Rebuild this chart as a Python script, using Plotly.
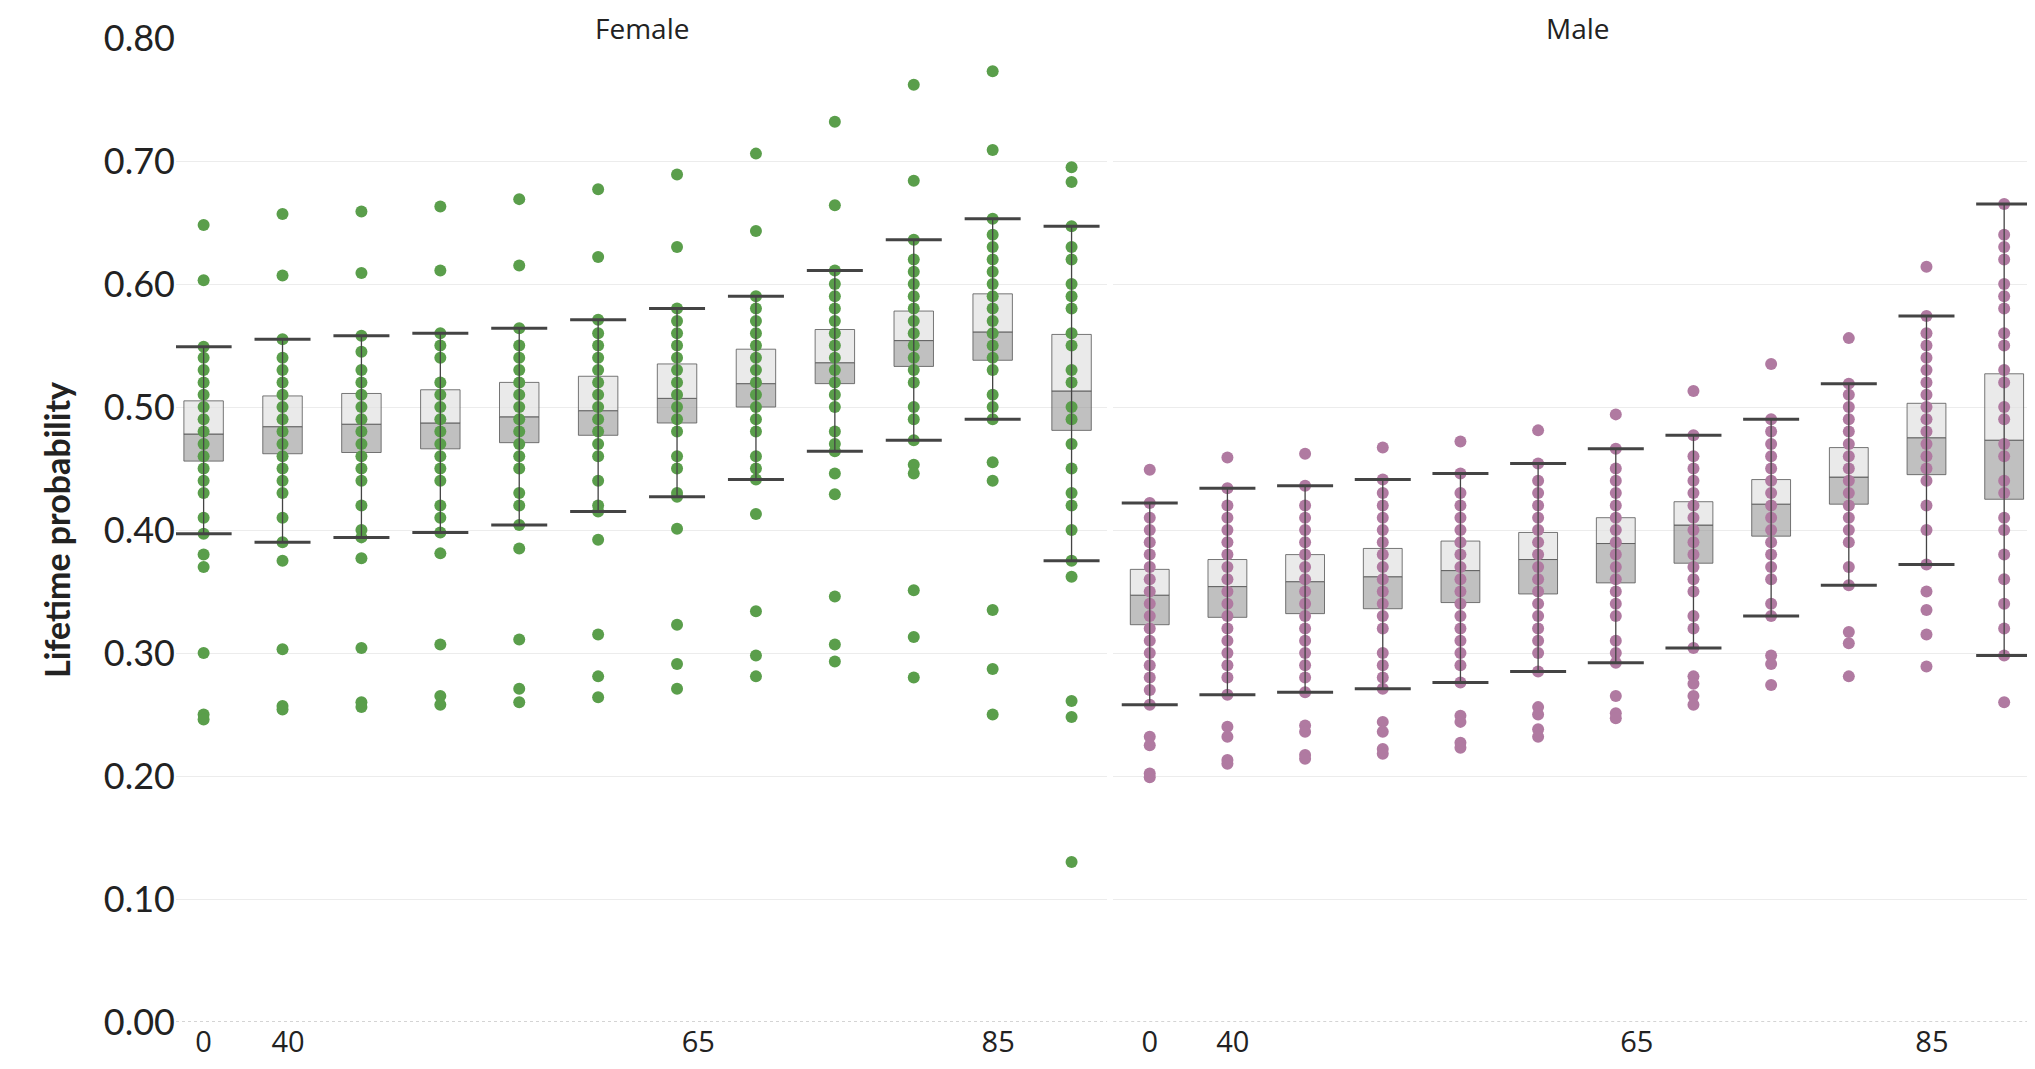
import plotly.graph_objects as go
from plotly.subplots import make_subplots

groups = list(range(12))
tick_pos = [0, 1.07, 6.27, 10.07]
tick_text = ["0", "40", "65", "85"]

# Female summary
f_lo = [.397, .390, .394, .398, .404, .415, .427, .441, .464, .473, .490, .375]
f_q1 = [.456, .462, .463, .466, .471, .477, .487, .500, .519, .533, .538, .481]
f_med = [.478, .484, .486, .487, .492, .497, .507, .519, .536, .554, .561, .513]
f_q3 = [.505, .509, .511, .514, .520, .525, .535, .547, .563, .578, .592, .559]
f_hi = [.549, .555, .558, .560, .564, .571, .580, .590, .611, .636, .653, .647]
f_pts = [
    [.648, .603, .549, .54, .53, .52, .51, .50, .49, .48, .47, .46, .45, .44, .43, .41, .397, .38, .37, .30, .25, .246],
    [.657, .607, .555, .54, .53, .52, .51, .50, .49, .48, .47, .46, .45, .44, .43, .41, .39, .375, .303, .257, .254],
    [.659, .609, .558, .545, .53, .52, .51, .50, .49, .48, .47, .46, .45, .44, .42, .40, .394, .377, .304, .260, .256],
    [.663, .611, .560, .55, .54, .52, .51, .50, .49, .48, .47, .46, .45, .44, .42, .41, .398, .381, .307, .265, .258],
    [.669, .615, .564, .55, .54, .53, .52, .51, .50, .49, .48, .47, .46, .45, .43, .42, .404, .385, .311, .271, .260],
    [.677, .622, .571, .56, .55, .54, .53, .52, .51, .50, .49, .48, .47, .46, .44, .42, .415, .392, .315, .281, .264],
    [.689, .630, .580, .57, .56, .55, .54, .53, .52, .51, .50, .49, .48, .46, .45, .43, .427, .401, .323, .291, .271],
    [.706, .643, .590, .58, .57, .56, .55, .54, .53, .52, .51, .50, .49, .48, .46, .45, .441, .413, .334, .298, .281],
    [.732, .664, .611, .60, .59, .58, .57, .56, .55, .54, .53, .52, .51, .50, .48, .47, .464, .446, .429, .346, .307, .293],
    [.762, .684, .636, .62, .61, .60, .59, .58, .57, .56, .55, .54, .53, .52, .50, .49, .473, .453, .446, .351, .313, .280],
    [.773, .709, .653, .64, .63, .62, .61, .60, .59, .58, .57, .56, .55, .54, .53, .51, .50, .490, .455, .440, .335, .287, .250],
    [.695, .683, .647, .63, .62, .60, .59, .58, .56, .55, .53, .52, .50, .49, .47, .45, .43, .42, .40, .375, .362, .261, .248, .130],
]

# Male summary
m_lo = [.258, .266, .268, .271, .276, .285, .292, .304, .330, .355, .372, .298]
m_q1 = [.323, .329, .332, .336, .341, .348, .357, .373, .395, .421, .445, .425]
m_med = [.347, .354, .358, .362, .367, .376, .389, .404, .421, .443, .475, .473]
m_q3 = [.368, .376, .380, .385, .391, .398, .410, .423, .441, .467, .503, .527]
m_hi = [.422, .434, .436, .441, .446, .454, .466, .477, .490, .519, .574, .665]
m_pts = [
    [.449, .422, .41, .40, .39, .38, .37, .36, .35, .34, .33, .32, .31, .30, .29, .28, .27, .258, .232, .225, .202, .199],
    [.459, .434, .42, .41, .40, .39, .38, .37, .36, .35, .34, .33, .32, .31, .30, .29, .28, .266, .240, .232, .213, .210],
    [.462, .436, .42, .41, .40, .39, .38, .37, .36, .35, .34, .33, .32, .31, .30, .29, .28, .268, .241, .236, .217, .214],
    [.467, .441, .43, .42, .41, .40, .39, .38, .37, .36, .35, .34, .33, .32, .30, .29, .28, .271, .244, .236, .222, .218],
    [.472, .446, .43, .42, .41, .40, .39, .38, .37, .36, .35, .34, .33, .32, .31, .30, .29, .276, .249, .244, .227, .223],
    [.481, .454, .44, .43, .42, .41, .40, .39, .38, .37, .36, .35, .34, .33, .32, .31, .30, .285, .256, .250, .238, .232],
    [.494, .466, .45, .44, .43, .42, .41, .40, .39, .38, .37, .36, .35, .34, .33, .31, .30, .292, .265, .251, .247],
    [.513, .477, .46, .45, .44, .43, .42, .41, .40, .39, .38, .37, .36, .35, .33, .32, .304, .281, .275, .265, .258],
    [.535, .490, .48, .47, .46, .45, .44, .43, .42, .41, .40, .39, .38, .37, .36, .34, .330, .298, .291, .274],
    [.556, .519, .51, .50, .49, .48, .47, .46, .45, .44, .43, .42, .41, .40, .39, .37, .355, .317, .308, .281],
    [.614, .574, .56, .55, .54, .53, .52, .51, .50, .49, .48, .47, .46, .45, .44, .42, .40, .372, .350, .335, .315, .289],
    [.665, .64, .63, .62, .60, .59, .58, .56, .55, .53, .52, .50, .49, .47, .46, .44, .43, .41, .40, .38, .36, .34, .32, .298, .260],
]

panels = [
    ("Female", "#5a9e4b", f_lo, f_q1, f_med, f_q3, f_hi, f_pts),
    ("Male", "#b07aa1", m_lo, m_q1, m_med, m_q3, m_hi, m_pts),
]

fig = make_subplots(rows=1, cols=2, shared_yaxes=True)

for col, (name, color, lo, q1, med, q3, hi, pts) in enumerate(panels, start=1):
    xs, ys = [], []
    for g, vals in zip(groups, pts):
        xs += [g] * len(vals)
        ys += vals
    fig.add_trace(go.Scatter(x=xs, y=ys, mode="markers",
                             marker=dict(color=color, size=12),
                             showlegend=False), row=1, col=col)
    # lower half of box
    fig.add_trace(go.Bar(x=groups, y=[m - a for m, a in zip(med, q1)], base=q1,
                         width=0.5, marker=dict(color="rgba(150,150,150,0.6)",
                                                line=dict(color="#555", width=0.8)),
                         showlegend=False), row=1, col=col)
    # upper half of box
    fig.add_trace(go.Bar(x=groups, y=[b - m for m, b in zip(med, q3)], base=med,
                         width=0.5, marker=dict(color="rgba(225,225,225,0.7)",
                                                line=dict(color="#555", width=0.8)),
                         showlegend=False), row=1, col=col)
    # whiskers
    fig.add_trace(go.Scatter(x=groups, y=med, mode="markers",
                             marker=dict(size=0.1, color="rgba(0,0,0,0)"),
                             error_y=dict(type="data", symmetric=False,
                                          array=[h - m for h, m in zip(hi, med)],
                                          arrayminus=[m - l for m, l in zip(med, lo)],
                                          color="#444", thickness=1.3, width=19),
                             showlegend=False), row=1, col=col)
    fig.add_trace(go.Scatter(x=groups, y=hi, mode="markers",
                             marker=dict(symbol="line-ew", size=40,
                                         line=dict(color="#444", width=3)),
                             showlegend=False), row=1, col=col)
    fig.add_trace(go.Scatter(x=groups, y=lo, mode="markers",
                             marker=dict(symbol="line-ew", size=40,
                                         line=dict(color="#444", width=3)),
                             showlegend=False), row=1, col=col)

fig.update_layout(
    width=2035, height=1069, barmode="overlay",
    paper_bgcolor="white", plot_bgcolor="white",
    margin=dict(l=168, r=0, t=30, b=55),
    font=dict(family="Lato", color="#222"),
    xaxis=dict(domain=[0, 0.4987]), xaxis2=dict(domain=[0.502, 1]),
)
fig.update_xaxes(range=[-0.35, 11.45], tickvals=tick_pos, ticktext=tick_text,
                 showgrid=False, zeroline=False, showline=False,
                 tickfont=dict(size=29, family="Open Sans"))
fig.update_xaxes(range=[-0.47, 11.5], row=1, col=2)
fig.update_yaxes(range=[0, 0.8], dtick=0.1, tickformat=".2f",
                 showgrid=True, gridcolor="#ececec", zeroline=False,
                 tickfont=dict(size=36), ticks="")
fig.update_yaxes(title=dict(text="<b>Lifetime probability</b>", font=dict(size=34),
                            standoff=22), row=1, col=1)
for xref in ["x", "x2"]:
    fig.add_shape(type="line", xref=xref + " domain", yref="y", x0=0, x1=1, y0=0, y1=0,
                  line=dict(color="#aaa", width=1.2, dash="dot"))
fig.add_annotation(text="Female", xref="x domain", yref="paper", x=0.5, y=1.0,
                   yanchor="middle", yshift=10, showarrow=False,
                   font=dict(size=28, family="Open Sans"))
fig.add_annotation(text="Male", xref="x2 domain", yref="paper", x=0.5, y=1.0,
                   yanchor="middle", yshift=10, showarrow=False,
                   font=dict(size=28, family="Open Sans"))

fig.write_html("out.html")
